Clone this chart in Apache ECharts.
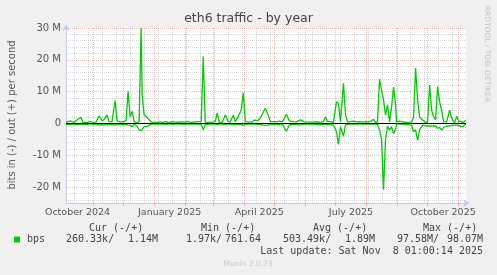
<!DOCTYPE html>
<html><head><meta charset="utf-8">
<script src="https://cdn.jsdelivr.net/npm/echarts@6/dist/echarts.min.js"></script>
<style>html,body{margin:0;padding:0;background:#f0f0f0;}#c{width:497px;height:275px;}</style>
</head><body><div id="c"></div>
<script>
// ---- data ----
const startDate = Date.UTC(2024, 9, 5);       // left edge of graph
const endDate = Date.UTC(2025, 10, 8, 8);     // right edge of graph
const DAY = 86400000;
// day offsets from startDate
const dayIndex = [0,4,8,12,15,17,21,24,27,30,33,36,38,41,43,46,49,51,54,57,60,62,64,66,68,71,73,75,76,78,80,83,85,88,91,94,97,100,103,107,110,114,118,122,125,129,132,135,137,139,142,146,149,151,153,156,159,162,164,167,169,172,175,177,179,182,186,188,191,194,197,199,201,204,207,210,213,216,220,223,227,230,234,238,242,246,250,254,257,259,261,264,267,270,272,274,277,279,281,284,287,290,293,296,299,302,305,307,309,311,313,315,317,319,321,323,325,327,329,330,333,336,339,342,345,347,349,351,353,356,359,361,363,365,367,369,371,373,375,377,380,383,385,388,390,392,394,396,399];
// bits out per second (M), drawn upward
const outMbps = [0.3,0.8,0.3,1.3,1.9,0.3,0.3,0.6,0.3,0.4,2.4,0.9,1.2,2.7,0.5,0.6,7.2,0.8,0.5,0.5,0.9,10.1,2.1,3.8,0.6,0.2,0.5,30.0,9.0,2.7,2.2,1.2,0.4,0.3,0.3,0.5,0.3,0.6,0.3,0.6,0.3,0.5,0.4,0.6,0.3,0.5,0.6,0.6,21.0,0.4,0.3,0.3,0.6,3.3,0.3,0.3,2.7,0.6,0.5,2.6,0.6,2.2,4.3,9.6,0.6,0.4,0.4,1.1,0.8,1.7,3.6,4.8,3.3,0.6,0.6,0.5,0.7,0.5,2.9,0.8,0.6,0.5,1.1,0.5,0.4,0.4,0.5,0.4,0.6,2.0,0.6,0.6,0.3,6.8,6.3,0.5,12.6,2.9,0.5,0.6,0.7,0.5,0.6,0.4,0.6,0.5,0.8,1.3,0.3,0.4,13.9,10.5,7.4,2.6,5.8,0.5,5.0,11.4,5.8,0.5,0.7,0.5,0.3,0.3,0.4,2.1,17.4,7.4,2.0,1.1,0.3,0.3,12.1,4.2,2.1,1.1,11.6,6.8,4.2,0.5,0.5,4.2,1.6,0.2,2.3,0.5,0.7,0.2,1.0];
// bits in per second (M), drawn downward
const inMbps = [0.3,0.2,0.3,0.2,0.3,0.2,0.3,0.2,0.2,0.3,0.5,0.4,0.5,0.3,0.4,0.3,0.5,0.3,0.2,0.4,0.3,0.5,0.6,1.0,0.3,0.8,2.0,2.3,2.0,1.0,1.0,0.6,0.2,0.2,0.1,0.2,0.1,0.2,0.1,0.2,0.1,0.2,0.1,0.2,0.1,0.2,0.2,0.3,2.0,0.4,0.2,0.2,0.2,0.4,0.2,0.2,0.3,0.2,0.2,0.3,0.2,0.3,0.4,0.6,0.3,0.2,0.2,0.2,0.3,0.3,0.5,0.6,0.5,0.2,0.3,0.2,0.3,0.2,2.5,0.4,0.3,0.2,0.3,0.2,0.2,0.3,0.2,0.3,0.2,0.3,0.2,0.3,0.5,2.6,6.6,1.0,4.0,0.5,0.3,0.2,0.2,0.2,0.2,0.2,0.2,0.2,0.2,0.2,0.2,0.3,2.1,5.0,20.8,5.0,0.8,2.1,1.0,3.2,1.8,0.2,0.2,0.2,0.3,0.3,0.5,2.6,2.0,5.3,2.0,0.5,0.8,0.8,0.8,0.8,0.8,0.8,1.5,1.2,2.1,1.2,0.8,0.8,0.6,0.5,0.5,0.6,1.0,1.0,0.2];
const xTickLabels = ['October 2024','January 2025','April 2025','July 2025','October 2025'];
const xTickDates = [[2024,9,16,12],[2025,0,16,12],[2025,3,16,0],[2025,6,16,12],[2025,9,16,12]];
const yTickValues = [-20,-10,0,10,20,30];
const legendHeaders = ['Cur (-/+)','Min (-/+)','Avg (-/+)','Max (-/+)'];
const legendIn = ['260.33k/','1.97k/','503.49k/','97.58M/'];
const legendOut = ['1.14M','761.64','1.89M','98.07M'];
const seriesName = 'bps';
const lastUpdate = 'Last update: Sat Nov  8 01:00:14 2025';

// ---- derived ----
const xTickValues = xTickDates.map(d => Date.UTC(d[0], d[1], d[2], d[3]));
const labelMap = {};
xTickValues.forEach((v, i) => { labelMap[v] = xTickLabels[i]; });
const monthStarts = [];
for (let i = 0; i < 14; i++) { const t = Date.UTC(2024, 10 + i, 1); if (t < endDate) monthStarts.push(t); }
const biWeekly = [];
for (let t = Date.UTC(2024, 9, 13); t < endDate; t += 14 * DAY) biWeekly.push(t);
const minorY = [];
for (let v = -24; v <= 30; v += 2) if (v % 10 !== 0) minorY.push(v);

const outData = dayIndex.map((d, i) => [startDate + d * DAY, outMbps[i]]);
const inData = dayIndex.map((d, i) => [startDate + d * DAY, -inMbps[i]]);

const GREEN = '#00cc00';
const AXISC = '#c6cbf5';
const RED = 'rgba(230,130,130,0.55)';
const GREY = 'rgba(175,175,175,0.5)';
const mono = '10px "DejaVu Sans Mono", monospace';
const txt = '#444';

function t(text, x, y, opts) {
  opts = opts || {};
  return { type: 'text', x: x, y: y, rotation: opts.rot || 0, silent: true, z: 50,
    style: { text: text, font: opts.font || mono, fill: opts.fill || txt,
      align: opts.align || 'left', verticalAlign: 'middle', textAlign: opts.align || 'left', textVerticalAlign: 'middle' } };
}

const graphics = [
  t('eth6 traffic - by year', 248.5, 19, { font: '12.5px "DejaVu Sans"', align: 'center', fill: '#444' }),
  t('bits in (-) / out (+) per second', 12, 115, { font: '10px "DejaVu Sans"', align: 'center', rot: Math.PI / 2, fill: '#555' }),
  t('RRDTOOL / TOBI OETIKER', 487, 54, { font: '7.5px "DejaVu Sans"', align: 'center', rot: -Math.PI / 2, fill: '#c4c4c4' }),
  t('Munin 2.0.73', 248, 264, { font: '7.5px "DejaVu Sans"', align: 'center', fill: '#c8c8c8' }),
  { type: 'rect', shape: { x: 14, y: 236.5, width: 6, height: 6 }, style: { fill: GREEN }, silent: true, z: 50 },
  t(seriesName, 27, 239.5),
  t(lastUpdate, 483, 251.5, { align: 'right' })
];
const headerX = [89, 201, 313, 423];
const inX = [66, 186, 283, 397];
const outX = [158, 261, 375, 483];
legendHeaders.forEach((h, i) => {
  graphics.push(t(h, headerX[i], 228));
  graphics.push(t(legendIn[i], inX[i], 239.5));
  graphics.push(t(legendOut[i], outX[i], 239.5, { align: 'right' }));
});

const chart = echarts.init(document.getElementById('c'), null, { renderer: 'canvas' });
chart.setOption({
  backgroundColor: '#f0f0f0',
  animation: false,
  grid: { left: 66, top: 28, width: 400, height: 175, show: true, backgroundColor: '#ffffff', borderWidth: 0 },
  xAxis: {
    type: 'value', min: startDate, max: endDate,
    splitLine: { show: false },
    axisLine: { show: true, onZero: false, lineStyle: { color: AXISC, width: 1 }, symbol: ['none', 'arrow'], symbolSize: [6, 7], symbolOffset: [0, 4] },
    axisTick: { show: true, customValues: monthStarts, length: 3, lineStyle: { color: RED } },
    axisLabel: { customValues: xTickValues, formatter: v => labelMap[v] || '', color: '#555', fontFamily: 'DejaVu Sans', fontSize: 9.5, margin: 5 }
  },
  yAxis: {
    type: 'value', min: -25, max: 30,
    splitLine: { show: false },
    axisLine: { show: true, onZero: false, lineStyle: { color: AXISC, width: 1 }, symbol: ['none', 'arrow'], symbolSize: [6, 7], symbolOffset: [0, 4] },
    axisTick: { show: false },
    axisLabel: { customValues: yTickValues, formatter: v => v === 0 ? '0' : v + ' M', color: '#555', fontFamily: 'DejaVu Sans', fontSize: 10, margin: 5 }
  },
  series: [
    { type: 'line', data: [[startDate, 0]], symbol: 'none', lineStyle: { width: 0 }, silent: true, z: 1,
      markLine: { silent: true, symbol: 'none', z: 1, label: { show: false }, animation: false,
        lineStyle: { color: GREY, type: [1, 1], width: 1 },
        data: biWeekly.map(v => ({ xAxis: v })).concat(minorY.map(v => ({ yAxis: v }))) } },
    { type: 'line', data: [[startDate, 0]], symbol: 'none', lineStyle: { width: 0 }, silent: true, z: 1,
      markLine: { silent: true, symbol: 'none', z: 2, label: { show: false }, animation: false,
        lineStyle: { color: RED, type: [1, 1], width: 1 },
        data: monthStarts.map(v => ({ xAxis: v })).concat(yTickValues.filter(v => v !== 0).map(v => ({ yAxis: v }))) } },
    { name: 'out', type: 'line', data: outData, showSymbol: false, symbol: 'none', z: 3,
      lineStyle: { color: GREEN, width: 1.3 } },
    { name: 'in', type: 'line', data: inData, showSymbol: false, symbol: 'none', z: 3,
      lineStyle: { color: GREEN, width: 1.3 },
      markLine: { silent: true, symbol: 'none', z: 6, label: { show: false }, animation: false,
        lineStyle: { color: '#000000', type: 'solid', width: 1.2 }, data: [{ yAxis: 0 }] } }
  ],
  graphic: graphics
});
</script>
</body></html>
